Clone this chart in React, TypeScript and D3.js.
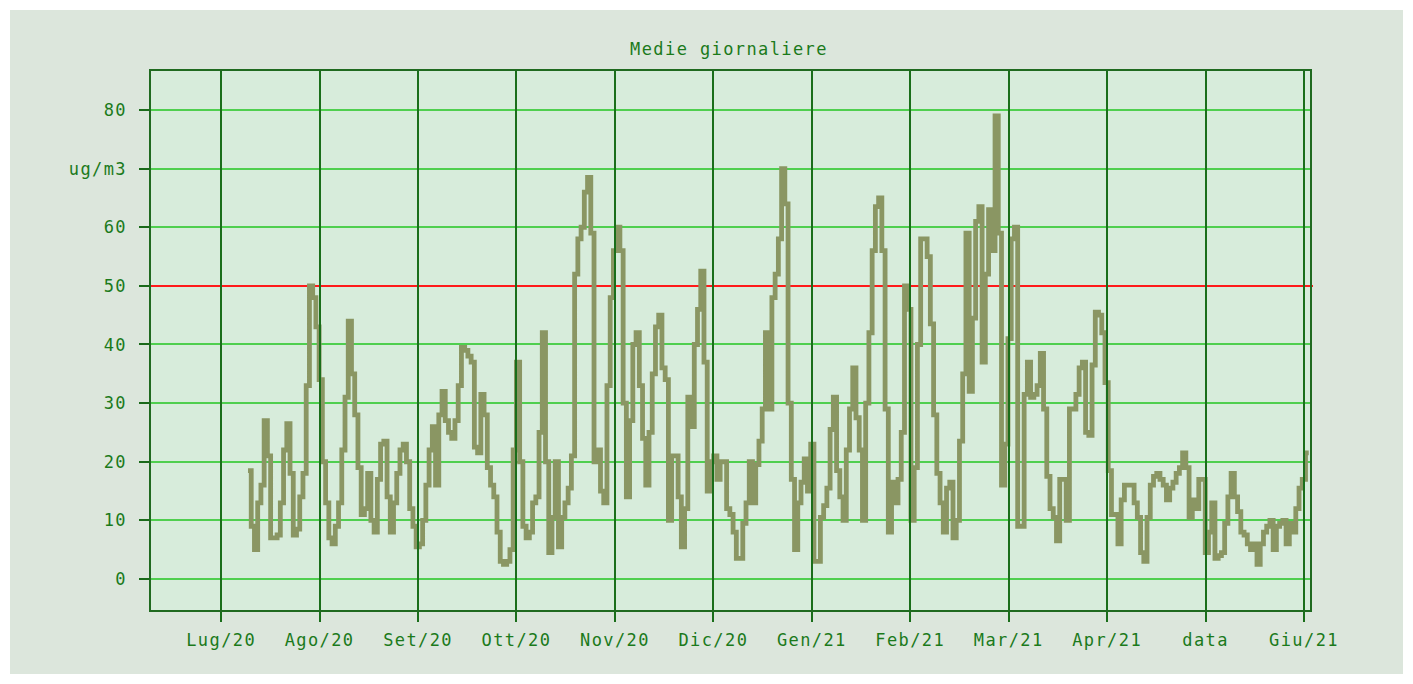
import React from "react";
import * as d3 from "d3";

// ---- data ----
const title = "Medie giornaliere";
const monthLabels = ["Lug/20", "Ago/20", "Set/20", "Ott/20", "Nov/20", "Dic/20", "Gen/21", "Feb/21", "Mar/21", "Apr/21", "data", "Giu/21"];
const monthStep = 30.44; // days between month ticks (uniform)
const yTicks = [0, 10, 20, 30, 40, 50, 60, 70, 80];
const yTickLabels = ["0", "10", "20", "30", "40", "50", "60", "ug/m3", "80"];
const limitValue = 50;
const firstDay = 8.3; // first sample, days after Lug/20 tick
const dailyValues = [
  18.5, 9, 5, 13, 16, 27, 21, 7, 7, 7.5, 13, 22, 26.5, 18, 7.5, 8.5, 14, 18, 33, 50,
  48, 43, 34, 20, 13, 7, 6, 9, 13, 22, 31, 44, 35, 28, 19, 11, 12, 18, 10, 8,
  17, 23, 23.5, 14, 8, 13, 18, 22, 23, 20, 12, 9, 5.5, 6, 10, 16, 22, 26, 16, 28,
  32, 27, 25, 24, 27, 33, 39.5, 39, 38, 37, 22.5, 21.5, 31.5, 28, 19, 16, 14, 8, 3, 2.5,
  3, 5, 22, 37, 20, 9, 7, 8, 13, 14, 25, 42, 20, 4.5, 10.5, 20, 5.5, 10.5, 13, 15.5,
  21, 52, 58, 60, 66, 68.5, 59, 20, 22, 15, 13, 33, 48, 56, 60, 56, 30, 14, 27, 40,
  42, 33, 24, 16, 25, 35, 43, 45, 36, 34, 10, 21, 21, 14, 5.5, 12, 31, 26, 40, 46,
  52.5, 37, 15, 20, 21, 17, 20, 20, 12, 11, 8, 3.5, 3.5, 9.5, 13, 20, 13, 19.5, 23.5, 29,
  42, 29, 48, 52, 58, 70, 64, 30, 17, 5, 13, 16.5, 20.5, 15, 23, 3, 3, 10.5, 12.5, 15.5,
  25.5, 31, 18.5, 14, 10, 22, 29, 36, 27.5, 22, 10, 30, 42, 56, 63.5, 65, 56, 29, 8, 16.5,
  13, 17, 25, 50, 46, 10, 19, 40, 58, 58, 55, 43.5, 28, 18, 13, 8, 15.5, 16.5, 7, 10,
  23.5, 35, 59, 32, 44.5, 61, 63.5, 37, 52, 63, 56, 79, 59, 16, 23, 41, 58, 60, 9, 9,
  31.5, 37, 31, 31.5, 33, 38.5, 29, 17.5, 12, 10.5, 6.5, 17, 17, 10, 29, 29, 31.5, 36, 37, 25,
  24.5, 36.5, 45.5, 45, 42, 33.5, 18.5, 11, 11, 6, 13.5, 16, 16, 16, 13, 10.5, 4.5, 3, 10.5, 16,
  17.5, 18, 17, 16, 13.5, 15.5, 16.5, 18, 19, 21.5, 19, 10.5, 13.5, 12, 17, 17, 4.5, 8, 13, 3.5,
  4, 4.5, 9.5, 14, 18, 14, 11.5, 8, 7.5, 6, 5, 6, 2.5, 6, 8, 9, 10, 5, 9, 9.5,
  10, 6, 9.5, 8, 12, 15.5, 17, 21.5,
];

const W = 1413;
const H = 684;
const plot = { left: 150, right: 1311, top: 70, bottom: 611 };
const textColor = "#1b7a1b";
const font = "'DejaVu Sans Mono', monospace";

export default function App() {
  const x = d3.scaleLinear().domain([-22, 337]).range([plot.left, plot.right]);
  const y = d3.scaleLinear().domain([-5.46, 86.82]).range([plot.bottom, plot.top]);
  const ry = (v: number) => Math.round(y(v));
  const rx = (v: number) => Math.round(x(v));

  const pts: [number, number][] = dailyValues.map((v, i) => [firstDay + i, v]);
  pts.push([firstDay + dailyValues.length, dailyValues[dailyValues.length - 1]]);
  const line = d3
    .line<[number, number]>()
    .x((d) => x(d[0]))
    .y((d) => y(d[1]))
    .curve(d3.curveStepAfter);

  const monthPos = monthLabels.map((_, k) => k * monthStep);

  return (
    <svg
      width={W}
      height={H}
      style={{ position: "absolute", left: 0, top: 0, display: "block", background: "#ffffff" }}
    >
      <rect x={10} y={10} width={W - 20} height={H - 20} fill="#dce6dc" />
      <rect
        x={plot.left}
        y={plot.top}
        width={plot.right - plot.left}
        height={plot.bottom - plot.top}
        fill="#d7ecdb"
      />
      {/* horizontal grid */}
      {yTicks.map((t) => (
        <g key={"h" + t} shapeRendering="crispEdges">
          <line x1={plot.left} x2={plot.right} y1={ry(t)} y2={ry(t)} stroke="#4fcf4f" strokeWidth={2} />
          <line x1={139} x2={plot.left} y1={ry(t)} y2={ry(t)} stroke="#1a6a1a" strokeWidth={2} />
        </g>
      ))}
      {/* limit line */}
      <line
        x1={plot.left}
        x2={plot.right + 2}
        y1={ry(limitValue)}
        y2={ry(limitValue)}
        stroke="#ff1a1a"
        strokeWidth={2}
        shapeRendering="crispEdges"
      />
      {/* data */}
      <path d={line(pts) || ""} fill="none" stroke="#8a9663" strokeWidth={4.8} strokeLinejoin="miter" />
      {/* vertical month grid */}
      {monthPos.map((p, k) => (
        <line
          key={"v" + k}
          x1={rx(p)}
          x2={rx(p)}
          y1={plot.top}
          y2={622}
          stroke="#1a6e1a"
          strokeWidth={2}
          shapeRendering="crispEdges"
        />
      ))}
      {/* frame */}
      <rect
        x={plot.left}
        y={plot.top}
        width={plot.right - plot.left}
        height={plot.bottom - plot.top}
        fill="none"
        stroke="#206a20"
        strokeWidth={2}
        shapeRendering="crispEdges"
      />
      {/* y labels */}
      {yTicks.map((t, i) => (
        <text
          key={"yl" + t}
          x={127}
          y={y(t)}
          dy="0.36em"
          textAnchor="end"
          fontFamily={font}
          fontSize={17}
          letterSpacing={1.4}
          fill={textColor}
        >
          {yTickLabels[i]}
        </text>
      ))}
      {/* x labels */}
      {monthPos.map((p, k) => (
        <text
          key={"xl" + k}
          x={x(p)}
          y={646}
          textAnchor="middle"
          fontFamily={font}
          fontSize={17}
          letterSpacing={1.4}
          fill={textColor}
        >
          {monthLabels[k]}
        </text>
      ))}
      <text
        x={729}
        y={55}
        textAnchor="middle"
        fontFamily={font}
        fontSize={17}
        letterSpacing={1.4}
        fill={textColor}
      >
        {title}
      </text>
    </svg>
  );
}
